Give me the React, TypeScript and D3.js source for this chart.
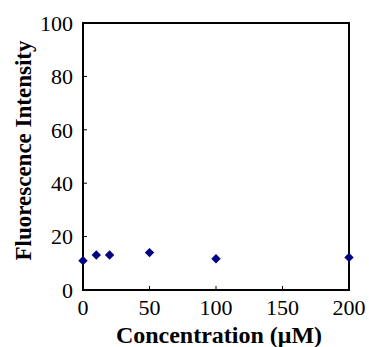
import React from "react";
import * as d3 from "d3";

const concentrations = [0, 10, 20, 50, 100, 200];
const intensities = [11, 13.1, 13.1, 14, 11.7, 12.2];
const xTicks = [0, 50, 100, 150, 200];
const yTicks = [0, 20, 40, 60, 80, 100];

const W = 369;
const H = 347;
const margin = { top: 23, right: 20, bottom: 57, left: 83 };

export default function App() {
  const x = d3.scaleLinear().domain([0, 200]).range([margin.left, W - margin.right]);
  const y = d3.scaleLinear().domain([0, 100]).range([H - margin.bottom, margin.top]);
  // square turned 45 degrees -> even diamond like the original marker
  const diamond = d3.symbol().type(d3.symbolSquare).size(44)();
  const font = "'Liberation Serif', 'Times New Roman', serif";

  return (
    <svg
      width={W}
      height={H}
      style={{ position: "absolute", left: 0, top: 0, background: "#fff" }}
    >
      {/* ticks, pointing inward */}
      {yTicks.map((t) => (
        <g key={"y" + t}>
          <line x1={x(0)} x2={x(0) + 4} y1={y(t)} y2={y(t)} stroke="#000" strokeWidth={1} />
          <text
            x={x(0) - 10}
            y={y(t)}
            dy="0.35em"
            textAnchor="end"
            fontFamily={font}
            fontSize={22}
          >
            {t}
          </text>
        </g>
      ))}
      {xTicks.map((t) => (
        <g key={"x" + t}>
          <line x1={x(t)} x2={x(t)} y1={y(0)} y2={y(0) - 4} stroke="#000" strokeWidth={1} />
          <text
            x={x(t)}
            y={y(0) + 25}
            textAnchor="middle"
            fontFamily={font}
            fontSize={22}
          >
            {t}
          </text>
        </g>
      ))}

      <rect
        x={x(0)}
        y={y(100)}
        width={x(200) - x(0)}
        height={y(0) - y(100)}
        fill="none"
        stroke="#000"
        strokeWidth={2}
      />

      {concentrations.map((c, i) => (
        <path
          key={c}
          d={diamond as string}
          transform={`translate(${x(c)},${y(intensities[i])}) rotate(45)`}
          fill="#000080"
        />
      ))}

      <text
        x={(x(0) + x(200)) / 2 + 3}
        y={343}
        textAnchor="middle"
        fontFamily={font}
        fontWeight="bold"
        fontSize={24}
      >
        Concentration (μM)
      </text>
      <text
        transform={`translate(31,${(y(0) + y(100)) / 2 - 6}) rotate(-90)`}
        textAnchor="middle"
        fontFamily={font}
        fontWeight="bold"
        fontSize={23}
      >
        Fluorescence Intensity
      </text>
    </svg>
  );
}
